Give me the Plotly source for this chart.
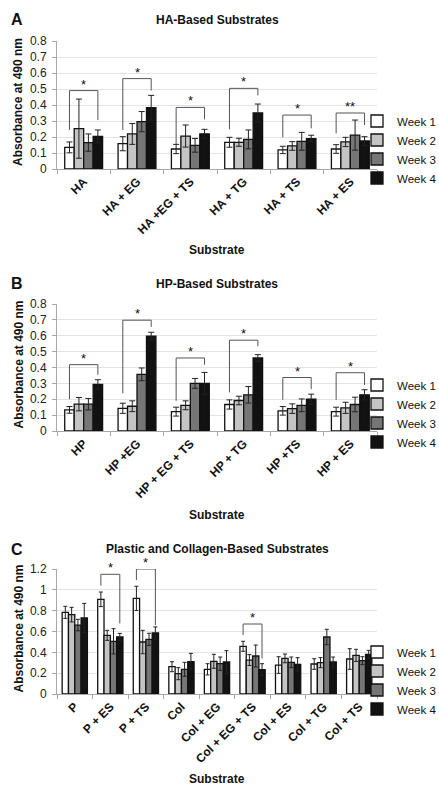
import plotly.graph_objects as go

# ---------------- data ----------------
weeks = ["Week 1", "Week 2", "Week 3", "Week 4"]
week_colors = ["#ffffff", "#c4c4c4", "#767676", "#121212"]

# Panel A
a_categories = ["HA", "HA + EG", "HA +EG + TS", "HA + TG", "HA + TS", "HA + ES"]
a_week1 = [0.135, 0.158, 0.125, 0.167, 0.119, 0.125]
a_week2 = [0.252, 0.219, 0.206, 0.167, 0.144, 0.169]
a_week3 = [0.165, 0.296, 0.148, 0.185, 0.173, 0.212]
a_week4 = [0.204, 0.383, 0.219, 0.350, 0.190, 0.175]
a_err1 = [0.034, 0.044, 0.029, 0.031, 0.023, 0.027]
a_err2 = [0.185, 0.065, 0.069, 0.025, 0.027, 0.029]
a_err3 = [0.054, 0.063, 0.043, 0.059, 0.056, 0.094]
a_err4 = [0.040, 0.077, 0.029, 0.056, 0.021, 0.027]
a_sig_cat = [0, 1, 2, 3, 4, 5]
a_sig_top = [0.49, 0.565, 0.385, 0.504, 0.337, 0.35]
a_sig_left = [0.244, 0.244, 0.155, 0.248, 0.198, 0.223]
a_sig_right = [0.306, 0.49, 0.31, 0.46, 0.254, 0.275]
a_sig_label = ["*", "*", "*", "*", "*", "**"]

# Panel B
b_categories = ["HP", "HP +EG", "HP + EG + TS", "HP + TG", "HP +TS", "HP + ES"]
b_week1 = [0.133, 0.143, 0.122, 0.167, 0.127, 0.122]
b_week2 = [0.169, 0.156, 0.162, 0.192, 0.141, 0.146]
b_week3 = [0.169, 0.357, 0.300, 0.228, 0.162, 0.167]
b_week4 = [0.293, 0.597, 0.300, 0.460, 0.200, 0.228]
b_err1 = [0.021, 0.032, 0.028, 0.029, 0.027, 0.028]
b_err2 = [0.042, 0.034, 0.028, 0.027, 0.030, 0.035]
b_err3 = [0.036, 0.040, 0.031, 0.052, 0.040, 0.046]
b_err4 = [0.030, 0.025, 0.069, 0.021, 0.032, 0.032]
b_sig_cat = [0, 1, 2, 3, 4, 5]
b_sig_top = [0.418, 0.698, 0.46, 0.572, 0.337, 0.367]
b_sig_left = [0.20, 0.238, 0.19, 0.243, 0.196, 0.196]
b_sig_right = [0.354, 0.656, 0.418, 0.534, 0.264, 0.29]
b_sig_label = ["*", "*", "*", "*", "*", "*"]

# Panel C
c_categories = ["P", "P + ES", "P + TS", "Col", "Col + EG", "Col + EG + TS",
                "Col + ES", "Col + TG", "Col + TS"]
c_week1 = [0.784, 0.909, 0.918, 0.262, 0.237, 0.458, 0.278, 0.288, 0.336]
c_week2 = [0.762, 0.563, 0.499, 0.195, 0.314, 0.326, 0.342, 0.301, 0.371]
c_week3 = [0.662, 0.506, 0.525, 0.237, 0.291, 0.365, 0.304, 0.547, 0.320]
c_week4 = [0.730, 0.547, 0.586, 0.310, 0.307, 0.234, 0.285, 0.307, 0.381]
c_err1 = [0.058, 0.070, 0.116, 0.048, 0.054, 0.048, 0.080, 0.051, 0.099]
c_err2 = [0.070, 0.048, 0.112, 0.058, 0.067, 0.052, 0.042, 0.048, 0.058]
c_err3 = [0.055, 0.121, 0.058, 0.067, 0.064, 0.105, 0.051, 0.074, 0.038]
c_err4 = [0.140, 0.035, 0.058, 0.080, 0.109, 0.057, 0.064, 0.048, 0.038]
c_sig_cat = [1, 2, 5]
c_sig_top = [1.149, 1.2, 0.672]
c_sig_left = [1.04, 1.094, 0.566]
c_sig_right = [0.678, 0.662, 0.342]
c_sig_label = ["*", "*", "*"]

a_yticks = [0, 0.1, 0.2, 0.3, 0.4, 0.5, 0.6, 0.7, 0.8]
a_yticklabels = ["0", "0.1", "0.2", "0.3", "0.4", "0.5", "0.6", "0.7", "0.8"]
c_yticks = [0, 0.2, 0.4, 0.6, 0.8, 1.0, 1.2]
c_yticklabels = ["0", "0.2", "0.4", "0.6", "0.8", "1", "1.2"]

# ---------------- layout helpers ----------------
W, H = 439, 785
FONT = "Liberation Sans, Arial, sans-serif"
BARGAP = 0.29


def px(x):
    return x / W


def py(y):
    return 1 - y / H


panels = [
    dict(letter="A", title="HA-Based Substrates", cats=a_categories,
         vals=[a_week1, a_week2, a_week3, a_week4], errs=[a_err1, a_err2, a_err3, a_err4],
         sig=(a_sig_cat, a_sig_top, a_sig_left, a_sig_right, a_sig_label),
         yrange=[0, 0.8], ytv=a_yticks, ytt=a_yticklabels,
         top=41, bottom=169, title_y=20, xtitle_y=250, legend_y=106.5, capw=3),
    dict(letter="B", title="HP-Based Substrates", cats=b_categories,
         vals=[b_week1, b_week2, b_week3, b_week4], errs=[b_err1, b_err2, b_err3, b_err4],
         sig=(b_sig_cat, b_sig_top, b_sig_left, b_sig_right, b_sig_label),
         yrange=[0, 0.8], ytv=a_yticks, ytt=a_yticklabels,
         top=304, bottom=431, title_y=284, xtitle_y=515, legend_y=370.5, capw=3),
    dict(letter="C", title="Plastic and Collagen-Based Substrates", cats=c_categories,
         vals=[c_week1, c_week2, c_week3, c_week4], errs=[c_err1, c_err2, c_err3, c_err4],
         sig=(c_sig_cat, c_sig_top, c_sig_left, c_sig_right, c_sig_label),
         yrange=[0, 1.2], ytv=c_yticks, ytt=c_yticklabels,
         top=569, bottom=694, title_y=549, xtitle_y=779, legend_y=637.5, capw=2),
]

PLOT_L, PLOT_R = 57, 377

fig = go.Figure()
annotations = []
shapes = []

for k, p in enumerate(panels):
    sfx = "" if k == 0 else str(k + 1)
    xa, ya = "x" + sfx, "y" + sfx
    leg = "legend" + sfx
    n = len(p["cats"])
    xs = list(range(n))
    for j in range(4):
        fig.add_trace(go.Bar(
            x=xs, y=p["vals"][j], name=weeks[j],
            marker=dict(color=week_colors[j], line=dict(color="#111111", width=1.3)),
            error_y=dict(type="data", array=p["errs"][j], color="#222222",
                         thickness=1, width=p["capw"]),
            xaxis=xa, yaxis=ya, legend=leg, showlegend=True, hoverinfo="skip",
        ))

    fig.update_layout(**{
        "xaxis" + sfx: dict(
            domain=[px(PLOT_L), px(PLOT_R)], range=[-0.5, n - 0.5], anchor=ya,
            tickmode="array", tickvals=xs, ticktext=p["cats"], tickangle=-45,
            ticks="", showgrid=False, showline=True, linecolor="#a8a8a8", linewidth=1,
            tickfont=dict(family=FONT, size=12, color="#111111", weight="bold"),
            minor=dict(tickmode="array", tickvals=[i - 0.5 for i in range(n + 1)],
                       ticks="outside", ticklen=4, tickcolor="#a8a8a8", showgrid=False),
            zeroline=False, fixedrange=True, automargin=False,
        ),
        "yaxis" + sfx: dict(
            domain=[py(p["bottom"]), py(p["top"])], range=p["yrange"], anchor=xa,
            tickmode="array", tickvals=p["ytv"], ticktext=p["ytt"],
            ticks="outside", ticklen=4, tickcolor="#a8a8a8",
            showline=True, linecolor="#a8a8a8", linewidth=1,
            showgrid=True, gridcolor="#e3e3e3", gridwidth=1, zeroline=False,
            tickfont=dict(family=FONT, size=12, color="#222222"),
            ticklabelstandoff=3, fixedrange=True, automargin=False,
        ),
        leg: dict(
            x=px(357), y=py(p["legend_y"]), xanchor="left", yanchor="top",
            font=dict(family=FONT, size=11.5, color="#111111"),
            bgcolor="rgba(0,0,0,0)", itemwidth=30, tracegroupgap=0,
        ),
    })

    cats_i, tops, lefts, rights, labels = p["sig"]
    off = (1 - BARGAP) * 3 / 8
    for ci, t, l, r, lab in zip(cats_i, tops, lefts, rights, labels):
        x1, x4 = ci - off, ci + off
        shapes.append(dict(
            type="path", xref=xa, yref=ya,
            path=f"M {x1},{l} L {x1},{t} L {x4},{t} L {x4},{r}",
            line=dict(color="#555555", width=1),
        ))
        annotations.append(dict(
            x=ci, y=t, xref=xa, yref=ya, text=lab, showarrow=False,
            yanchor="bottom", yshift=-3,
            font=dict(family=FONT, size=13, color="#111111"),
        ))

    annotations.append(dict(
        x=px((PLOT_L + PLOT_R) / 2), y=py(p["title_y"]), xref="paper", yref="paper",
        text="<b>" + p["title"] + "</b>", showarrow=False, xanchor="center", yanchor="middle",
        font=dict(family=FONT, size=12, color="#111111"),
    ))
    annotations.append(dict(
        x=px(17), y=py(p["title_y"]), xref="paper", yref="paper",
        text="<b>" + p["letter"] + "</b>", showarrow=False, xanchor="center", yanchor="middle",
        font=dict(family=FONT, size=16, color="#111111"),
    ))
    annotations.append(dict(
        x=px((PLOT_L + PLOT_R) / 2), y=py(p["xtitle_y"]), xref="paper", yref="paper",
        text="<b>Substrate</b>", showarrow=False, xanchor="center", yanchor="middle",
        font=dict(family=FONT, size=12, color="#111111"),
    ))
    annotations.append(dict(
        x=px(18), y=py((p["top"] + p["bottom"]) / 2 - 3), xref="paper", yref="paper",
        text="<b>Absorbance at 490 nm</b>", showarrow=False, textangle=-90,
        xanchor="center", yanchor="middle",
        font=dict(family=FONT, size=12, color="#111111"),
    ))

fig.update_layout(
    width=W, height=H, autosize=False,
    margin=dict(l=0, r=0, t=0, b=0, autoexpand=False),
    paper_bgcolor="white", plot_bgcolor="white",
    barmode="group", bargap=BARGAP, bargroupgap=0,
    annotations=annotations, shapes=shapes,
    font=dict(family=FONT, size=12, color="#111111"),
    hovermode=False,
)

fig.write_html(
    "out.html",
    config={"displayModeBar": False, "staticPlot": False},
    post_script="document.body.style.margin='0px';document.body.style.overflow='hidden';",
)
